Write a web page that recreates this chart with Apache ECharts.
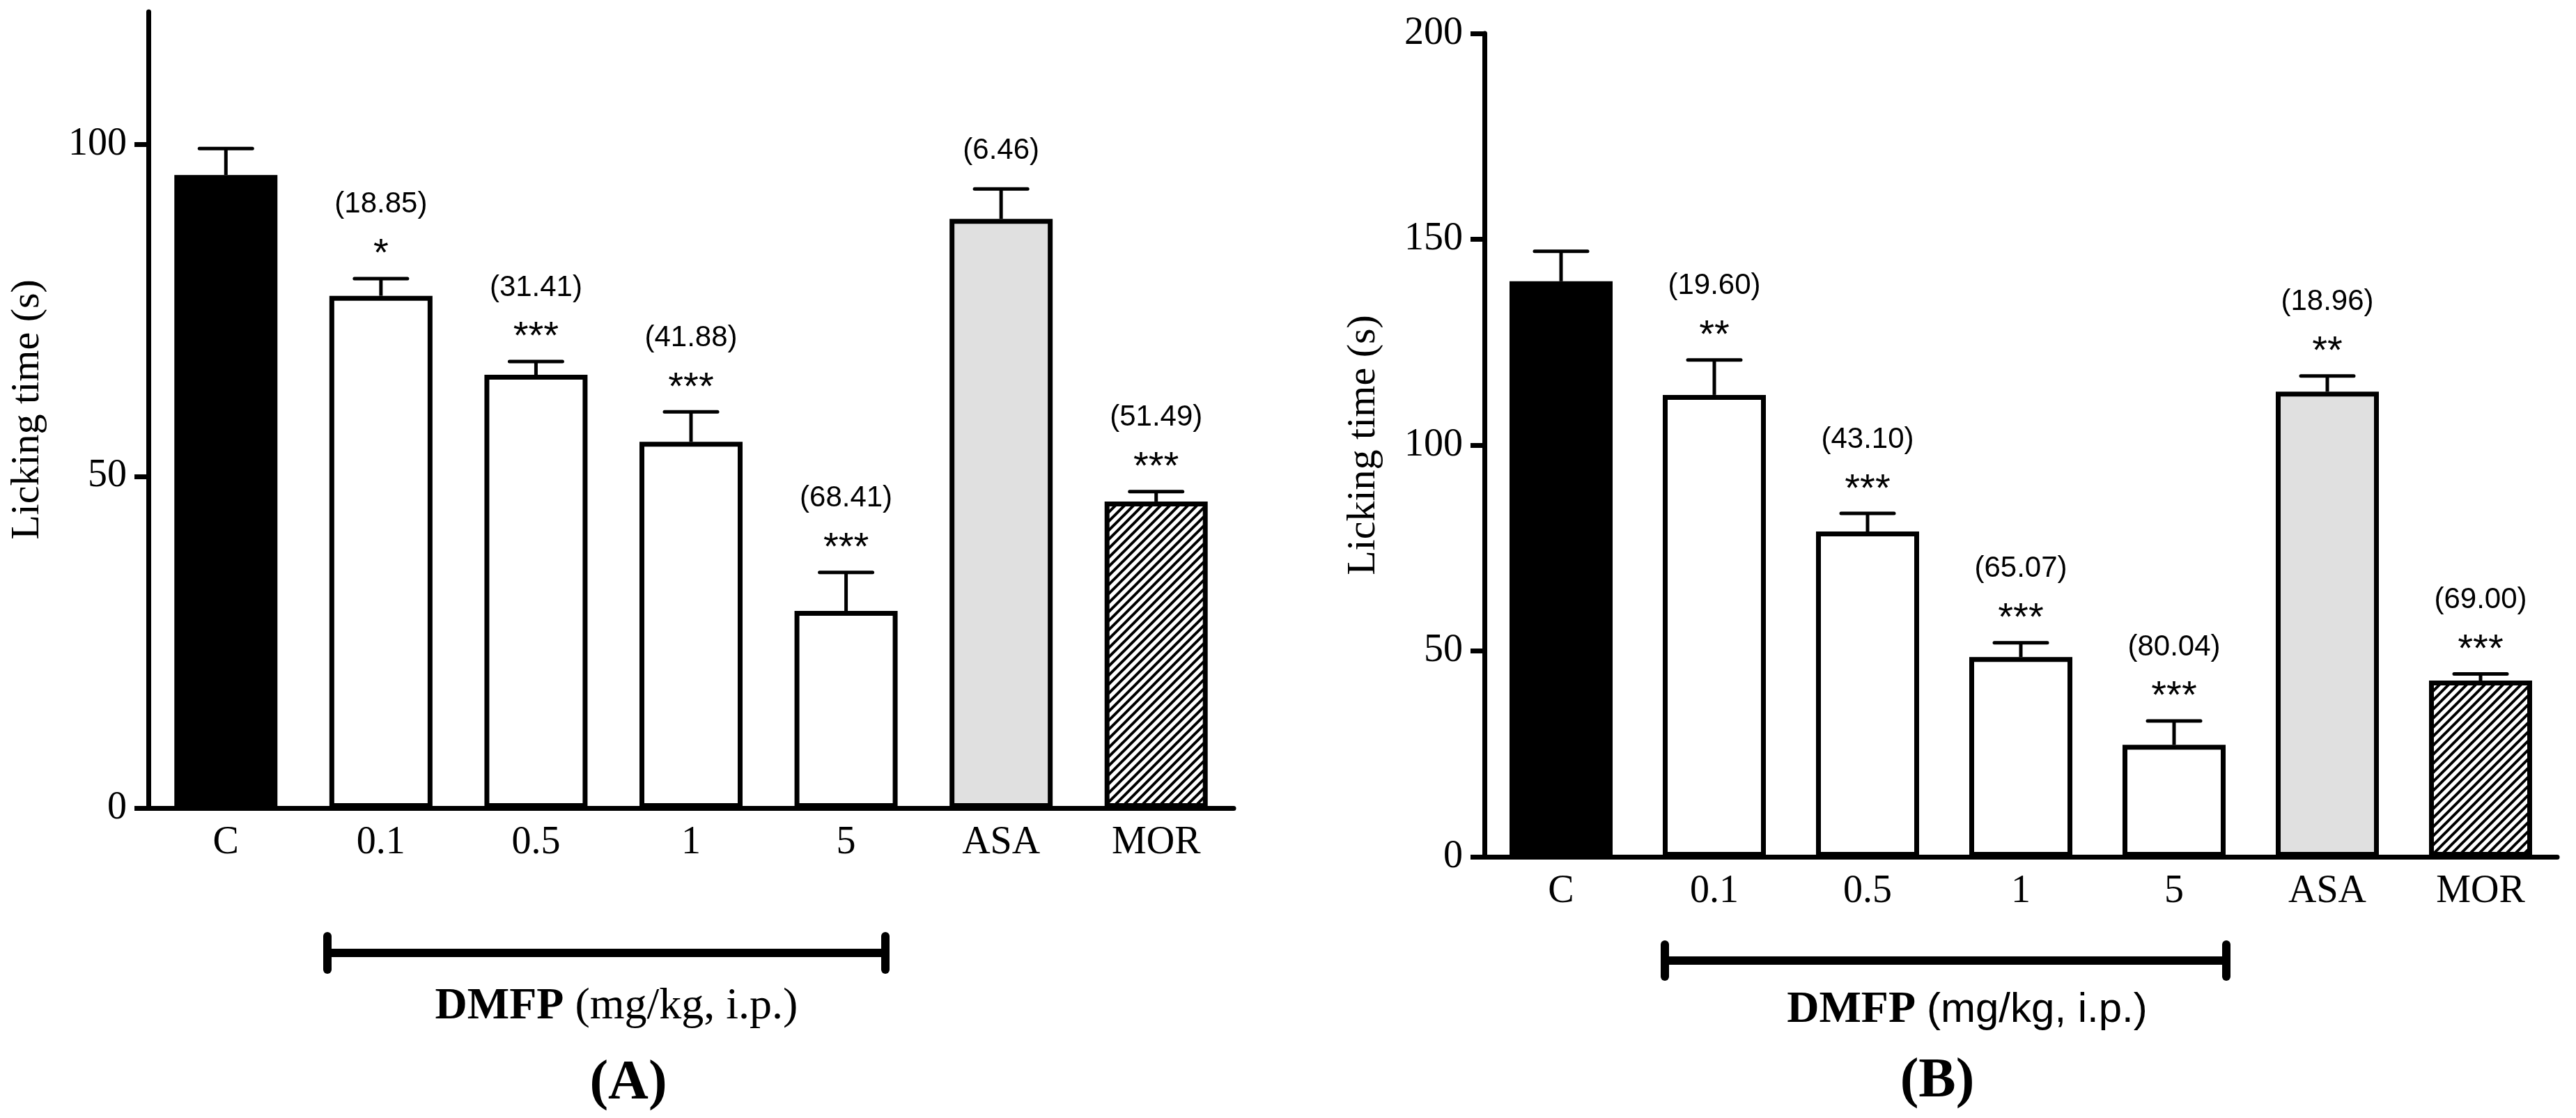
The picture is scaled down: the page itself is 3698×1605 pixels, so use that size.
<!DOCTYPE html>
<html>
<head>
<meta charset="utf-8">
<title>Licking time</title>
<script src="https://cdn.jsdelivr.net/npm/echarts@6/dist/echarts.min.js"></script>
<style>
html, body { margin: 0; padding: 0; background: #fff; }
#chart { width: 3698px; height: 1605px; }
</style>
</head>
<body>
<div id="chart"></div>
<script>
// data
var groups = ['C', '0.1', '0.5', '1', '5', 'ASA', 'MOR'];
var yTicksA = [0, 50, 100];
var yTicksB = [0, 50, 100, 150, 200];

var meanA = [95.4, 77.2, 65.3, 55.2, 29.7, 88.8, 46.2];
var semA = [4.0, 2.6, 2.0, 4.5, 5.8, 4.5, 1.5];
var pctA = ['', '(18.85)', '(31.41)', '(41.88)', '(68.41)', '(6.46)', '(51.49)'];
var starsA = ['', '*', '***', '***', '***', '', '***'];

var meanB = [139.8, 112.2, 79.0, 48.5, 27.2, 113.0, 42.8];
var semB = [7.3, 8.5, 4.4, 3.5, 5.8, 3.8, 1.6];
var pctB = ['', '(19.60)', '(43.10)', '(65.07)', '(80.04)', '(18.96)', '(69.00)'];
var starsB = ['', '**', '***', '***', '***', '**', '***'];

var SERIF = '"Liberation Serif", "Times New Roman", serif';
var SANS = '"Liberation Sans", Arial, sans-serif';

(function () {
    // hatch for the MOR bar
    var tile = document.createElement('canvas');
    var s = 13;
    tile.width = s; tile.height = s;
    var ctx = tile.getContext('2d');
    ctx.fillStyle = '#fff';
    ctx.fillRect(0, 0, s, s);
    ctx.strokeStyle = '#000';
    ctx.lineWidth = 4;
    ctx.beginPath();
    ctx.moveTo(0, s); ctx.lineTo(s, 0);
    ctx.moveTo(-s / 2, s / 2); ctx.lineTo(s / 2, -s / 2);
    ctx.moveTo(s / 2, s * 1.5); ctx.lineTo(s * 1.5, s / 2);
    ctx.stroke();
    var hatch = { image: tile, repeat: 'repeat' };

    var fills = ['#000', '#fff', '#fff', '#fff', '#fff', '#e0e0e0', hatch];

    var myChart = echarts.init(document.getElementById('chart'));

    function xAxisOf(idx) {
        return {
            gridIndex: idx,
            type: 'category',
            data: groups,
            axisLine: { lineStyle: { color: '#000', width: 7 } },
            axisTick: { alignWithLabel: true, length: 20, lineStyle: { color: '#000', width: 7 } },
            axisLabel: { interval: 0, margin: 22, color: '#000', fontSize: 56, fontFamily: SERIF }
        };
    }

    function yAxisOf(idx, max, ticks) {
        return {
            gridIndex: idx,
            type: 'value',
            min: 0,
            max: max,
            interval: 50,
            axisLine: { show: true, lineStyle: { color: '#000', width: 7 } },
            axisTick: { show: true, length: 20, customValues: ticks, lineStyle: { color: '#000', width: 7 } },
            axisLabel: { customValues: ticks, margin: 31, color: '#000', fontSize: 56, fontFamily: SERIF },
            splitLine: { show: false }
        };
    }

    function barSeries(idx, mean) {
        return {
            type: 'bar',
            xAxisIndex: idx,
            yAxisIndex: idx,
            barWidth: 148,
            data: mean.map(function (m, i) {
                return { value: m, itemStyle: { color: fills[i], borderColor: '#000', borderWidth: 7 } };
            })
        };
    }

    function errorSeries(idx, mean, sem, pct, stars) {
        return {
            type: 'custom',
            xAxisIndex: idx,
            yAxisIndex: idx,
            z: 5,
            data: mean.map(function (m, i) { return [i, m, sem[i]]; }),
            renderItem: function (params, api) {
                var i = api.value(0);
                var base = api.coord([i, api.value(1)]);
                var top = api.coord([i, api.value(1) + api.value(2)]);
                var x = base[0], capY = top[1];
                var kids = [
                    { type: 'line', shape: { x1: x, y1: base[1], x2: x, y2: capY }, style: { stroke: '#000', lineWidth: 5 } },
                    { type: 'line', shape: { x1: x - 38, y1: capY, x2: x + 38, y2: capY }, style: { stroke: '#000', lineWidth: 5, lineCap: 'round' } }
                ];
                var st = stars[i], p = pct[i];
                if (st) {
                    kids.push({ type: 'text', style: { text: st, x: x, y: capY - 34, font: '56px ' + SANS, align: 'center', verticalAlign: 'middle', fill: '#000' } });
                }
                if (p) {
                    kids.push({ type: 'text', style: { text: p, x: x, y: capY - (st ? 106 : 55), font: '42px ' + SANS, align: 'center', verticalAlign: 'middle', fill: '#000' } });
                }
                return { type: 'group', children: kids };
            }
        };
    }

    function bracket(x1, x2, y, h) {
        var st = { stroke: '#000', lineWidth: 12, lineCap: 'round' };
        return [
            { type: 'line', shape: { x1: x1, y1: y, x2: x2, y2: y }, style: st },
            { type: 'line', shape: { x1: x1, y1: y - h / 2, x2: x1, y2: y + h / 2 }, style: st },
            { type: 'line', shape: { x1: x2, y1: y - h / 2, x2: x2, y2: y + h / 2 }, style: st }
        ];
    }

    function yName(x, y) {
        return {
            type: 'text', x: x, y: y, rotation: Math.PI / 2,
            style: { text: 'Licking time (s)', font: '58px ' + SERIF, align: 'center', verticalAlign: 'middle', fill: '#000' }
        };
    }

    function doseLabel(x, y, unitFont) {
        return {
            type: 'text', x: x, y: y,
            style: {
                text: '{b|DMFP} {n|(mg/kg, i.p.)}',
                font: '64px ' + SERIF,
                align: 'center', verticalAlign: 'middle', fill: '#000',
                rich: {
                    b: { fontFamily: SERIF, fontWeight: 'bold', fontSize: 64 },
                    n: unitFont
                }
            }
        };
    }

    function panelLabel(x, y, t) {
        return {
            type: 'text', x: x, y: y,
            style: { text: t, font: 'bold 80px ' + SERIF, align: 'center', verticalAlign: 'middle', fill: '#000' }
        };
    }

    var option = {
        animation: false,
        backgroundColor: '#fff',
        grid: [
            { left: 213, top: 17, width: 1558, height: 1143 },
            { left: 2131, top: 48, width: 1540, height: 1182 }
        ],
        xAxis: [xAxisOf(0), xAxisOf(1)],
        yAxis: [yAxisOf(0, 120, yTicksA), yAxisOf(1, 200, yTicksB)],
        series: [
            barSeries(0, meanA),
            errorSeries(0, meanA, semA, pctA, starsA),
            barSeries(1, meanB),
            errorSeries(1, meanB, semB, pctB, starsB)
        ],
        graphic: [].concat(
            bracket(470, 1271, 1368, 48),
            bracket(2390, 3196, 1379, 46),
            [
                yName(40, 588),
                yName(1958, 639),
                doseLabel(885, 1445, { fontFamily: SERIF, fontSize: 64 }),
                doseLabel(2824, 1450, { fontFamily: SANS, fontSize: 60 }),
                panelLabel(902, 1556, '(A)'),
                panelLabel(2781, 1553, '(B)')
            ]
        )
    };

    myChart.setOption(option);
    window.addEventListener('resize', function () {
        myChart.resize();
    });
})();
</script>
</body>
</html>
